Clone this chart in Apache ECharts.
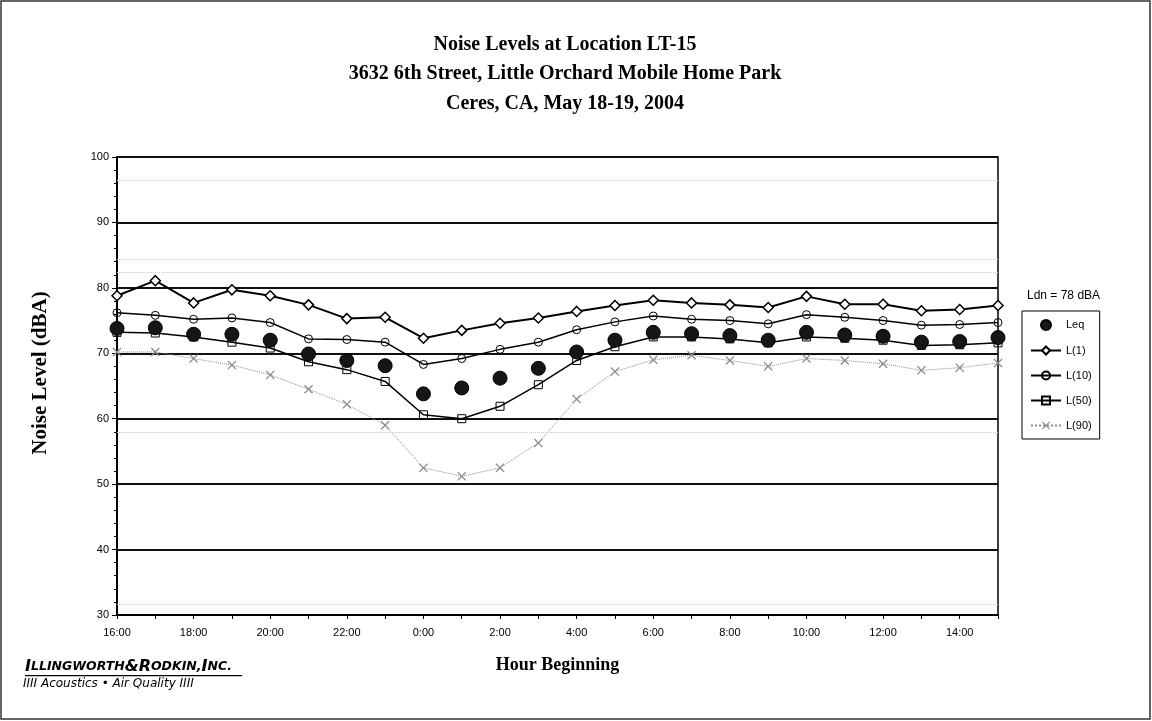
<!DOCTYPE html>
<html>
<head>
<meta charset="utf-8">
<script src="https://cdn.jsdelivr.net/npm/echarts@6/dist/echarts.min.js"></script>
<style>
html,body{margin:0;padding:0;background:#fff;}
#chart{width:1152px;height:721px;}
</style>
</head>
<body>
<div id="chart"></div>
<script>
const hours = ['16:00','17:00','18:00','19:00','20:00','21:00','22:00','23:00','0:00','1:00','2:00','3:00','4:00','5:00','6:00','7:00','8:00','9:00','10:00','11:00','12:00','13:00','14:00','15:00'];
const leq = [73.8,73.9,72.9,72.9,72.0,69.9,68.9,68.1,63.8,64.7,66.2,67.7,70.2,72.0,73.2,73.0,72.7,72.0,73.2,72.8,72.6,71.7,71.8,72.4];
const l1  = [78.8,81.1,77.7,79.7,78.8,77.4,75.3,75.5,72.3,73.5,74.6,75.4,76.4,77.3,78.1,77.7,77.4,77.0,78.7,77.5,77.5,76.5,76.7,77.3];
const l10 = [76.2,75.8,75.2,75.4,74.7,72.2,72.1,71.7,68.3,69.2,70.6,71.7,73.6,74.8,75.7,75.2,75.0,74.5,75.9,75.5,75.0,74.3,74.4,74.7];
const l50 = [73.2,73.1,72.5,71.7,70.8,68.7,67.5,65.7,60.6,60.0,61.9,65.2,68.9,71.0,72.5,72.5,72.2,71.6,72.5,72.3,72.0,71.2,71.3,71.6];
const l90 = [70.2,70.2,69.2,68.2,66.7,64.5,62.2,59.0,52.5,51.2,52.5,56.3,63.0,67.2,69.0,69.7,68.9,68.0,69.2,68.9,68.4,67.4,67.8,68.5];
const seriesNames = ['Leq','L(1)','L(10)','L(50)','L(90)'];
const faintLines = [96.4, 84.4, 82.4, 58.0, 31.6];
const titleLines = ['Noise Levels at Location LT-15','3632 6th Street, Little Orchard Mobile Home Park','Ceres, CA, May 18-19, 2004'];
const ldnText = 'Ldn = 78 dBA';

const serif = '"Liberation Serif", "Times New Roman", serif';
const sans = '"Liberation Sans", Arial, sans-serif';
const wide = '"DejaVu Sans", Verdana, sans-serif';
const xSym = 'path://M0,1 L1,0 L5,4 L9,0 L10,1 L6,5 L10,9 L9,10 L5,6 L1,10 L0,9 L4,5 Z';

const chart = echarts.init(document.getElementById('chart'), null, {renderer:'canvas'});
const option = {
  backgroundColor:'#fff',
  animation:false,
  title:{
    text: titleLines.join('\n'),
    left:560, top:25, textAlign:'center',
    textStyle:{fontFamily:serif, fontWeight:'bold', fontSize:20, lineHeight:29.5, color:'#000'}
  },
  grid:{left:117, right:154, top:157, bottom:106, show:true, borderColor:'#000', borderWidth:1.5, backgroundColor:'transparent'},
  legend:{
    orient:'vertical', left:1022, top:311,
    data: seriesNames,
    itemWidth:30, itemHeight:10, itemGap:14,
    padding:[8,8,8,8],
    borderColor:'#000', borderWidth:1,
    textStyle:{fontFamily:sans, fontSize:11, color:'#000'}
  },
  xAxis:{
    type:'category', data:hours, boundaryGap:false,
    name:'Hour Beginning', nameLocation:'middle', nameGap:41,
    nameTextStyle:{fontFamily:serif, fontWeight:'bold', fontSize:18, color:'#000'},
    axisLine:{lineStyle:{color:'#000', width:2}},
    axisTick:{show:true, interval:0, length:4, lineStyle:{color:'#000'}},
    axisLabel:{interval:1, fontFamily:sans, fontSize:11, color:'#000', margin:12},
    splitLine:{show:false}
  },
  yAxis:{
    type:'value', min:30, max:100, interval:10,
    name:'Noise Level (dBA)', nameLocation:'middle', nameGap:66,
    nameTextStyle:{fontFamily:serif, fontWeight:'bold', fontSize:21, color:'#000', padding:[0,0,0,26]},
    axisLine:{show:true, lineStyle:{color:'#000', width:2}},
    axisTick:{show:true, length:5, lineStyle:{color:'#000'}},
    minorTick:{show:true, splitNumber:5, length:3, lineStyle:{color:'#000'}},
    axisLabel:{fontFamily:sans, fontSize:11, color:'#000', margin:8},
    splitLine:{show:true, lineStyle:{color:'#111', width:2}}
  },
  series:[
    {name:'L(90)', type:'line', data:l90, symbol:xSym, symbolSize:9, z:2,
     lineStyle:{color:'#8c8c8c', width:1, type:'dotted'},
     itemStyle:{color:'#8c8c8c'},
     markLine:{silent:true, symbol:'none', label:{show:false},
       lineStyle:{color:'#c8c8c8', width:1, type:'dotted'},
       data: faintLines.map(v=>({yAxis:v}))}},
    {name:'L(50)', type:'line', data:l50, symbol:'rect', symbolSize:8, z:3,
     lineStyle:{color:'#000', width:1.5},
     itemStyle:{color:'rgba(255,255,255,0)', borderColor:'#000', borderWidth:1}},
    {name:'L(10)', type:'line', data:l10, symbol:'circle', symbolSize:8, z:4,
     lineStyle:{color:'#000', width:1.5},
     itemStyle:{color:'rgba(255,255,255,0)', borderColor:'#000', borderWidth:1}},
    {name:'L(1)', type:'line', data:l1, symbol:'diamond', symbolSize:10, z:5,
     lineStyle:{color:'#000', width:2},
     itemStyle:{color:'#fff', borderColor:'#000', borderWidth:1.5}},
    {name:'Leq', type:'scatter', data:leq, symbol:'circle', symbolSize:14, z:6,
     itemStyle:{color:'#161616', borderColor:'#000', borderWidth:1, opacity:1}}
  ],
  graphic:[
    {type:'rect', shape:{x:1, y:1, width:1149, height:718}, style:{fill:'none', stroke:'#333', lineWidth:1.5}, silent:true},
    {type:'text', left:1027, top:290, style:{text:ldnText, font:'12px '+sans, fill:'#000'}},
    {type:'text', left:25, top:659, style:{
      rich:{
        b:{font:'italic bold 16px '+wide, fill:'#000'},
        s:{font:'italic bold 12.5px '+wide, fill:'#000'}
      },
      text:'{b|I}{s|LLINGWORTH}{b|&R}{s|ODKIN,}{b|I}{s|NC.}'
    }},
    {type:'rect', shape:{x:25, y:675, width:217, height:1.2}, style:{fill:'#000'}},
    {type:'text', left:23, top:678, style:{text:'IIII Acoustics • Air Quality IIII', font:'italic 12px '+wide, fill:'#000'}}
  ]
};
chart.setOption(option);
</script>
</body>
</html>
